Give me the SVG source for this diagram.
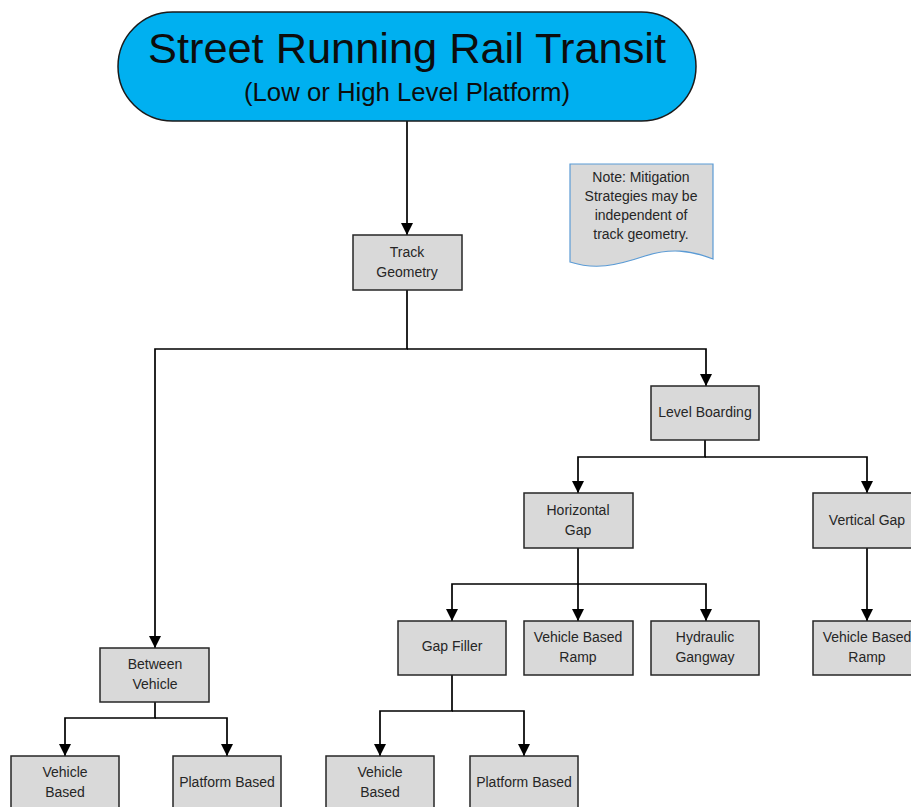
<svg xmlns="http://www.w3.org/2000/svg" width="911" height="807" viewBox="0 0 911 807">
<style>
.box{fill:#D9D9D9;stroke:#262626;stroke-width:1.5}
.t{font-family:"Liberation Sans",Arial,sans-serif;font-size:14px;fill:#262626;text-anchor:middle}
.c{fill:none;stroke:#000;stroke-width:1.7}
</style>
<defs>
<marker id="ah" viewBox="0 0 12 12" refX="12" refY="6" markerWidth="12" markerHeight="12" markerUnits="userSpaceOnUse" orient="auto">
<path d="M0,0 L12,6 L0,12 Z" fill="#000"/>
</marker>
</defs>
<rect width="911" height="807" fill="#fff"/>
<g id="connectors">
<path class="c" d="M407,121 V235" marker-end="url(#ah)"/>
<path class="c" d="M407,290 V349 H155 V648" marker-end="url(#ah)"/>
<path class="c" d="M407,349 H706 V386" marker-end="url(#ah)"/>
<path class="c" d="M705,440 V457 H578 V493" marker-end="url(#ah)"/>
<path class="c" d="M705,457 H867 V493" marker-end="url(#ah)"/>
<path class="c" d="M578,548 V584 H452 V621" marker-end="url(#ah)"/>
<path class="c" d="M578,584 V621" marker-end="url(#ah)"/>
<path class="c" d="M578,584 H706 V621" marker-end="url(#ah)"/>
<path class="c" d="M867,548 V621" marker-end="url(#ah)"/>
<path class="c" d="M452,675 V711 H380 V756" marker-end="url(#ah)"/>
<path class="c" d="M452,711 H524 V756" marker-end="url(#ah)"/>
<path class="c" d="M155,702 V718 H65 V756" marker-end="url(#ah)"/>
<path class="c" d="M155,718 H227 V756" marker-end="url(#ah)"/>
</g>
<g id="title">
<rect x="118" y="12" width="578" height="109" rx="54.5" ry="54.5" fill="#00B0F0" stroke="#1a1a1a" stroke-width="1.5"/>
<text x="407" y="63" font-family="'Liberation Sans',Arial,sans-serif" font-size="42" text-anchor="middle" fill="#0d0d0d" textLength="518" lengthAdjust="spacingAndGlyphs">Street Running Rail Transit</text>
<text x="407" y="101" font-family="'Liberation Sans',Arial,sans-serif" font-size="25" text-anchor="middle" fill="#0d0d0d" textLength="326" lengthAdjust="spacingAndGlyphs">(Low or High Level Platform)</text>
</g>
<g id="note">
<path d="M570,164 H713 V259 C690,250 670,248 645,256 C615,266 595,270 570,262 Z" fill="#D9D9D9" stroke="#5B9BD5" stroke-width="1.2"/>
<text class="t" x="641" y="182">Note: Mitigation</text>
<text class="t" x="641" y="201">Strategies may be</text>
<text class="t" x="641" y="220">independent of</text>
<text class="t" x="641" y="239">track geometry.</text>
</g>
<g id="track-geometry">
<rect class="box" x="353" y="235" width="109" height="55"/>
<text class="t" x="407" y="257">Track</text>
<text class="t" x="407" y="277">Geometry</text>
</g>
<g id="level-boarding">
<rect class="box" x="651" y="386" width="108" height="54"/>
<text class="t" x="705" y="417">Level Boarding</text>
</g>
<g id="horizontal-gap">
<rect class="box" x="524" y="493" width="109" height="55"/>
<text class="t" x="578" y="515">Horizontal</text>
<text class="t" x="578" y="535">Gap</text>
</g>
<g id="vertical-gap">
<rect class="box" x="813" y="493" width="109" height="55"/>
<text class="t" x="867" y="525">Vertical Gap</text>
</g>
<g id="gap-filler">
<rect class="box" x="398" y="621" width="108" height="54"/>
<text class="t" x="452" y="651">Gap Filler</text>
</g>
<g id="vehicle-based-ramp-h">
<rect class="box" x="524" y="621" width="109" height="54"/>
<text class="t" x="578" y="642">Vehicle Based</text>
<text class="t" x="578" y="662">Ramp</text>
</g>
<g id="hydraulic-gangway">
<rect class="box" x="651" y="621" width="108" height="54"/>
<text class="t" x="705" y="642">Hydraulic</text>
<text class="t" x="705" y="662">Gangway</text>
</g>
<g id="vehicle-based-ramp-v">
<rect class="box" x="813" y="621" width="109" height="54"/>
<text class="t" x="867" y="642">Vehicle Based</text>
<text class="t" x="867" y="662">Ramp</text>
</g>
<g id="between-vehicle">
<rect class="box" x="100" y="648" width="109" height="54"/>
<text class="t" x="155" y="669">Between</text>
<text class="t" x="155" y="689">Vehicle</text>
</g>
<g id="vehicle-based-bv">
<rect class="box" x="11" y="756" width="108" height="60"/>
<text class="t" x="65" y="777">Vehicle</text>
<text class="t" x="65" y="797">Based</text>
</g>
<g id="platform-based-bv">
<rect class="box" x="173" y="756" width="108" height="60"/>
<text class="t" x="227" y="787">Platform Based</text>
</g>
<g id="vehicle-based-gf">
<rect class="box" x="326" y="756" width="108" height="60"/>
<text class="t" x="380" y="777">Vehicle</text>
<text class="t" x="380" y="797">Based</text>
</g>
<g id="platform-based-gf">
<rect class="box" x="470" y="756" width="108" height="60"/>
<text class="t" x="524" y="787">Platform Based</text>
</g>
</svg>
